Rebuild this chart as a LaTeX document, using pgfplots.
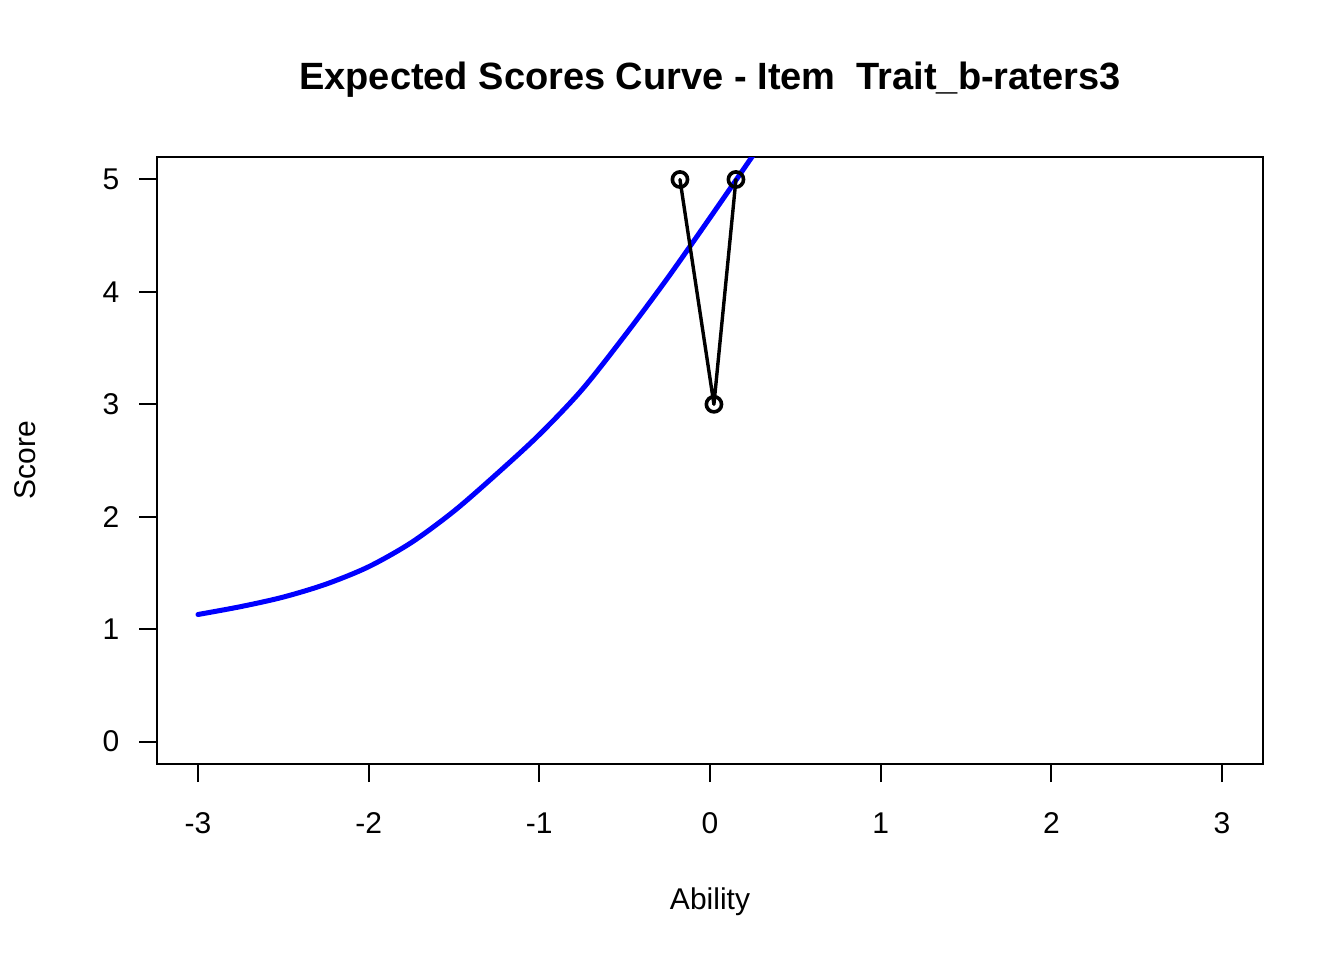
\documentclass[border=0pt]{standalone}
\usepackage{pgfplots}
\pgfplotsset{compat=1.18}
\usepackage{fontspec}
\setmainfont{Liberation Sans}
\begin{document}
\begin{tikzpicture}
\path[use as bounding box, fill=white] (0,0) rectangle (672pt,480pt);
\begin{axis}[
  at={(78.5pt,98pt)}, anchor=south west,
  scale only axis, width=553pt, height=303.5pt,
  xmin=-3.24, xmax=3.24, ymin=-0.2, ymax=5.2,
  xtick={-3,-2,-1,0,1,2,3},
  xticklabels={-3,-2,-1,0,1,2,3},
  ytick={0,1,2,3,4,5},
  yticklabels={0,1,2,3,4,5},
  xtick pos=bottom, ytick pos=left,
  tick align=outside, major tick length=9pt,
  every tick/.style={black, line width=1pt},
  axis line style={line width=1pt},
  tick label style={font=\fontsize{15}{18}\selectfont},
  xticklabel style={anchor=center, yshift=-20.5pt},
  yticklabel style={anchor=center, xshift=-14pt},
  clip=true,
]
\addplot[blue, line width=2.5pt, line cap=round, line join=round, smooth] coordinates {
(-3,1.13) (-2.75,1.20) (-2.5,1.285) (-2.25,1.40) (-2,1.555) (-1.75,1.77)
(-1.5,2.05) (-1.25,2.38) (-1,2.73) (-0.75,3.13) (-0.5,3.61) (-0.25,4.12)
(0,4.66) (0.25,5.21) (0.3,5.32)
};
\addplot[black, line width=1.7pt, line join=round, line cap=round, mark=o, mark size=3.8pt, mark options={solid, line width=1.8pt}] coordinates {
(-0.176,5) (0.023,3) (0.152,5)
};
\end{axis}
\node[font=\fontsize{19}{23}\selectfont\bfseries] at (355pt,440pt) {Expected Scores Curve - Item\ \ Trait\_b-raters3};
\node[font=\fontsize{15}{18}\selectfont] at (355pt,29pt) {Ability};
\node[font=\fontsize{15}{18}\selectfont, rotate=90] at (12.5pt,250pt) {Score};
\end{tikzpicture}
\end{document}
